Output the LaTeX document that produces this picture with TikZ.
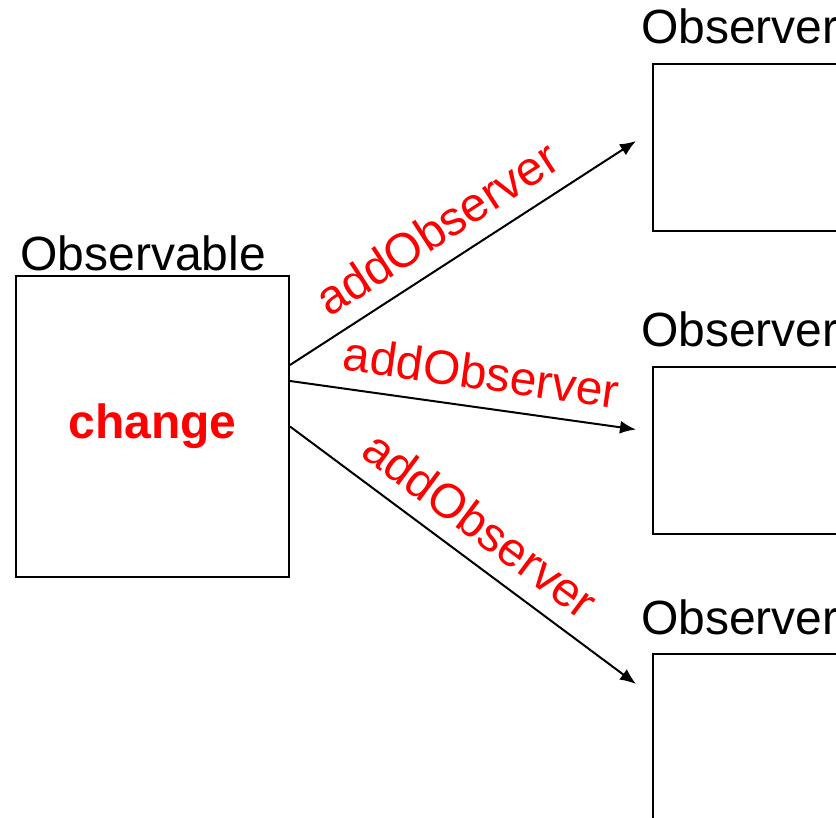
\documentclass[tikz,border=0pt]{standalone}
\usepackage{fontspec}
\setmainfont{Liberation Sans}
\usetikzlibrary{arrows.meta}
\usetikzlibrary{positioning}

\tikzset{
  box/.style={draw, line width=1pt, inner sep=0pt},
  obsbox/.style={box, minimum width=110pt, minimum height=83.5pt, anchor=north west},
  title/.style={inner sep=0pt, anchor=base west},
  call/.style={line width=1pt, -{Latex[length=8pt,width=6.5pt]}},
  callname/.style={sloped, above=5pt, text=red}
}

\begin{document}
\begin{tikzpicture}[x=0.5pt,y=-0.5pt,font=\fontsize{24}{28}\selectfont]
    \clip (0,0) rectangle (836,818);
    % the subject
    \node[box, minimum width=136.5pt, minimum height=150.5pt] (obs) at (152.5,426.5)
      {\textcolor{red}{\textbf{change}}};
    \node[title] (obsname) at ([xshift=2.5pt,yshift=2pt]obs.north west) {Observable};
    % the observers
    \node[obsbox] (ob1) at (652,63) {};
    \node[obsbox] (ob2) at (652,366) {};
    \node[obsbox] (ob3) at (652,653) {};
    \foreach \o in {ob1,ob2,ob3}
    {
      \node[title] (\o name) at ([xshift=-5.6pt,yshift=9.5pt]\o.north west) {Observer};
    }
    % registrations
    \draw[call] ([yshift=30.75pt]obs.east) -- node[callname, pos=0.48] {addObserver}
      ([xshift=-8pt,yshift=3.25pt]ob1.west);
    \draw[call] ([yshift=22.75pt]obs.east) -- node[callname, pos=0.54] {addObserver}
      ([xshift=-8pt,yshift=10.5pt]ob2.west);
    \draw[call] (obs.east) -- node[callname, pos=0.49] {addObserver}
      ([xshift=-8pt,yshift=26.75pt]ob3.west);
\end{tikzpicture}
\end{document}
